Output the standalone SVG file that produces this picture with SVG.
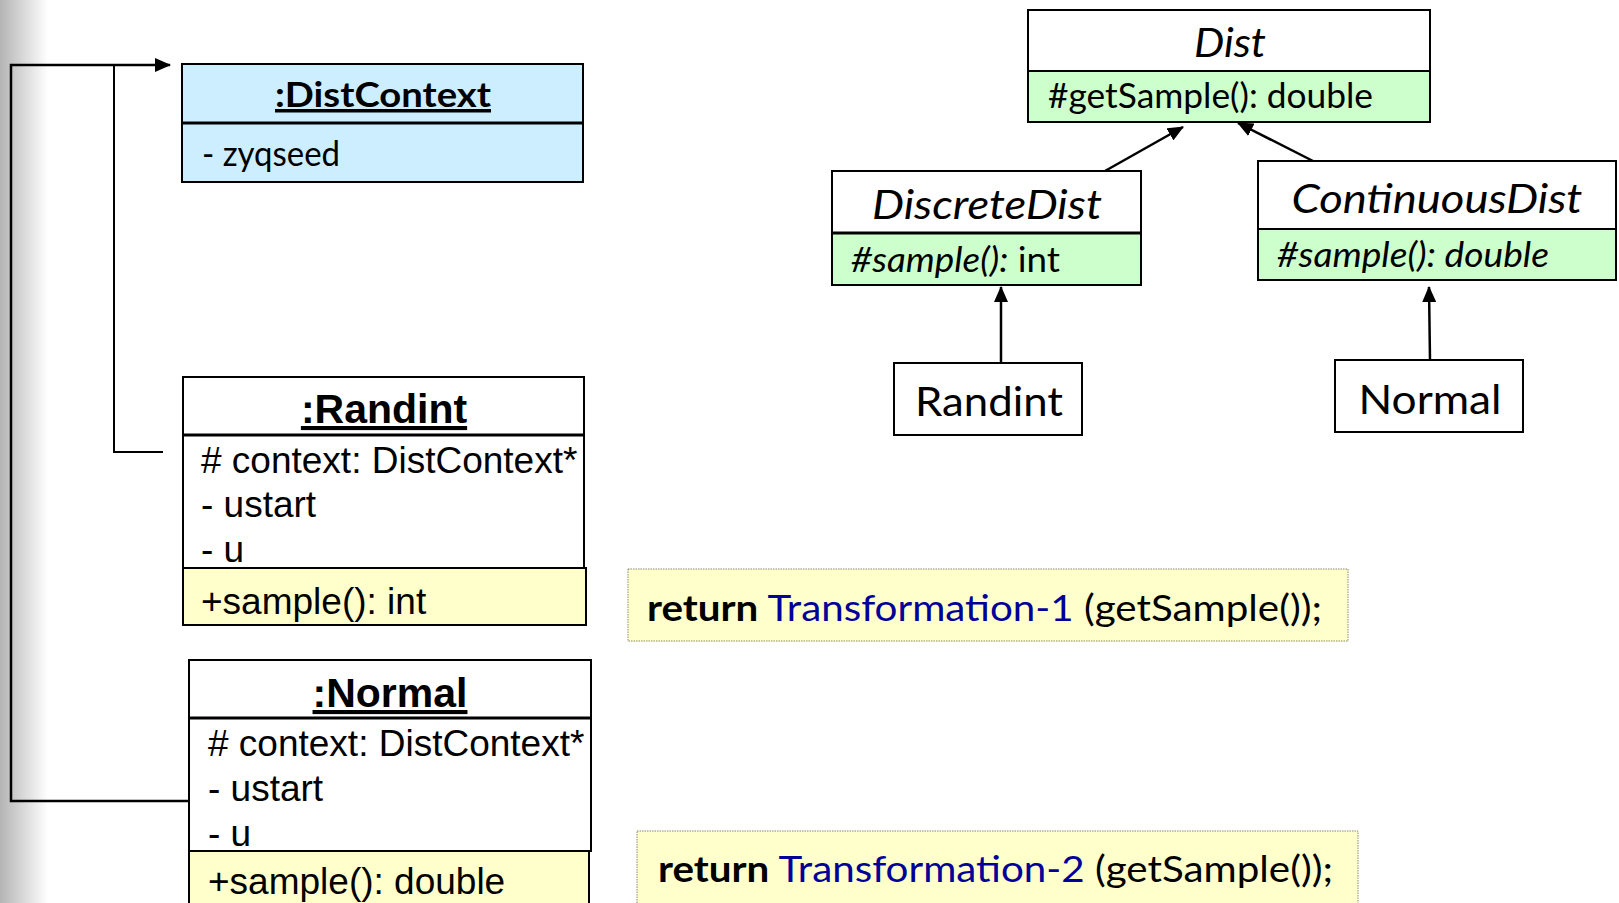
<svg xmlns="http://www.w3.org/2000/svg" width="1619" height="903" viewBox="0 0 1619 903">
<defs>
<linearGradient id="bg" x1="0" y1="0" x2="1" y2="0">
<stop offset="0" stop-color="#b4b4b4"/>
<stop offset="1" stop-color="#ffffff"/>
</linearGradient>
<marker id="arr" markerUnits="userSpaceOnUse" markerWidth="16" markerHeight="14" viewBox="0 0 16 14" refX="15" refY="7" orient="auto">
<path d="M0,0 L16,7 L0,14 Z" fill="#000"/>
</marker>
<style>
.box{stroke:#000;stroke-width:2}
.div{stroke:#000;stroke-width:3}
.wht{fill:#fff}
.blu{fill:#cdeeff}
.grn{fill:#ccffcc}
.yel{fill:#ffffcc}
.cal{font-family:Lato,"Open Sans",sans-serif;fill:#000}
.ari{font-family:"Liberation Sans",Arial,sans-serif;fill:#000}
.it{font-style:italic}
.b{font-weight:bold}
.ul{text-decoration:underline}
.con{fill:none;stroke:#000;stroke-width:2.5}
.ret{stroke:#8a8a6a;stroke-width:1;stroke-dasharray:1.5,1}
.nav{fill:#000099}
</style>
</defs>
<rect x="0" y="0" width="1619" height="903" fill="#fff"/>
<rect x="0" y="0" width="48" height="903" fill="url(#bg)"/>

<g id="connectors">
<polyline class="con" points="189,801 11,801 11,65 170,65" marker-end="url(#arr)"/>
<polyline class="con" points="163,452 114,452 114,65" style="stroke-width:2"/>
<line class="con" x1="1105" y1="171" x2="1183" y2="127" marker-end="url(#arr)"/>
<line class="con" x1="1313" y1="161" x2="1238" y2="123" marker-end="url(#arr)"/>
<line class="con" x1="1001" y1="363" x2="1001" y2="287" marker-end="url(#arr)"/>
<line class="con" x1="1430" y1="360" x2="1429" y2="287" marker-end="url(#arr)"/>
</g>

<g id="DistContext">
<rect class="box blu" x="182" y="64" width="401" height="118"/>
<line class="div" x1="182" y1="123" x2="583" y2="123"/>
<text class="cal b ul" x="383" y="107" font-size="35" text-anchor="middle" textLength="216" lengthAdjust="spacingAndGlyphs">:DistContext</text>
<text class="cal" x="202" y="166" font-size="35" textLength="138" lengthAdjust="spacingAndGlyphs">- zyqseed</text>
</g>

<g id="RandintObj">
<rect class="box wht" x="183" y="377" width="401" height="191"/>
<line class="div" x1="183" y1="435" x2="584" y2="435"/>
<rect class="box yel" x="183" y="568" width="403" height="57"/>
<text class="ari b ul" x="384" y="423" font-size="41" text-anchor="middle">:Randint</text>
<text class="ari" font-size="37">
<tspan x="201" y="473"># context: DistContext*</tspan>
<tspan x="201" y="517">- ustart</tspan>
<tspan x="201" y="562">- u</tspan>
</text>
<text class="ari" x="201" y="614" font-size="37">+sample(): int</text>
</g>

<g id="NormalObj">
<rect class="box wht" x="189" y="660" width="402" height="191"/>
<line class="div" x1="189" y1="718" x2="591" y2="718"/>
<rect class="box yel" x="189" y="851" width="400" height="70"/>
<text class="ari b ul" x="390" y="707" font-size="41" text-anchor="middle">:Normal</text>
<text class="ari" font-size="37">
<tspan x="208" y="756"># context: DistContext*</tspan>
<tspan x="208" y="801">- ustart</tspan>
<tspan x="208" y="846">- u</tspan>
</text>
<text class="ari" x="208" y="894" font-size="37">+sample(): double</text>
</g>

<g id="Dist">
<rect class="box wht" x="1028" y="10" width="402" height="112"/>
<rect class="box grn" x="1028" y="71" width="402" height="51"/>
<text class="cal it" x="1230" y="57" font-size="40" text-anchor="middle" textLength="72" lengthAdjust="spacingAndGlyphs">Dist</text>
<text class="cal" x="1048" y="108" font-size="34" textLength="325" lengthAdjust="spacingAndGlyphs">#getSample(): double</text>
</g>

<g id="DiscreteDist">
<rect class="box wht" x="832" y="171" width="309" height="114"/>
<rect class="box grn" x="832" y="233" width="309" height="52"/>
<line class="div" x1="832" y1="233" x2="1141" y2="233"/>
<text class="cal it" x="987" y="219" font-size="40" text-anchor="middle" textLength="230" lengthAdjust="spacingAndGlyphs">DiscreteDist</text>
<text class="cal" x="851" y="272" font-size="34" textLength="209" lengthAdjust="spacingAndGlyphs"><tspan class="it">#sample():</tspan> int</text>
</g>

<g id="ContinuousDist">
<rect class="box wht" x="1258" y="161" width="358" height="119"/>
<rect class="box grn" x="1258" y="229" width="358" height="51"/>
<text class="cal it" x="1437" y="213" font-size="40" text-anchor="middle" textLength="291" lengthAdjust="spacingAndGlyphs">ContinuousDist</text>
<text class="cal it" x="1277" y="267" font-size="34" textLength="272" lengthAdjust="spacingAndGlyphs">#sample(): double</text>
</g>

<g id="RandintClass">
<rect class="box wht" x="894" y="363" width="188" height="72"/>
<text class="cal" x="989" y="416" font-size="40" text-anchor="middle" textLength="148" lengthAdjust="spacingAndGlyphs">Randint</text>
</g>

<g id="NormalClass">
<rect class="box wht" x="1335" y="360" width="188" height="72"/>
<text class="cal" x="1430" y="414" font-size="40" text-anchor="middle" textLength="143" lengthAdjust="spacingAndGlyphs">Normal</text>
</g>

<g id="Return1">
<rect class="ret yel" x="628" y="569" width="720" height="72"/>
<text class="cal" x="647" y="621" font-size="36" textLength="675" lengthAdjust="spacingAndGlyphs"><tspan class="b">return</tspan> <tspan class="nav">Transformation-1</tspan> (getSample());</text>
</g>

<g id="Return2">
<rect class="ret yel" x="637" y="831" width="721" height="90"/>
<text class="cal" x="658" y="882" font-size="36" textLength="675" lengthAdjust="spacingAndGlyphs"><tspan class="b">return</tspan> <tspan class="nav">Transformation-2</tspan> (getSample());</text>
</g>
</svg>
